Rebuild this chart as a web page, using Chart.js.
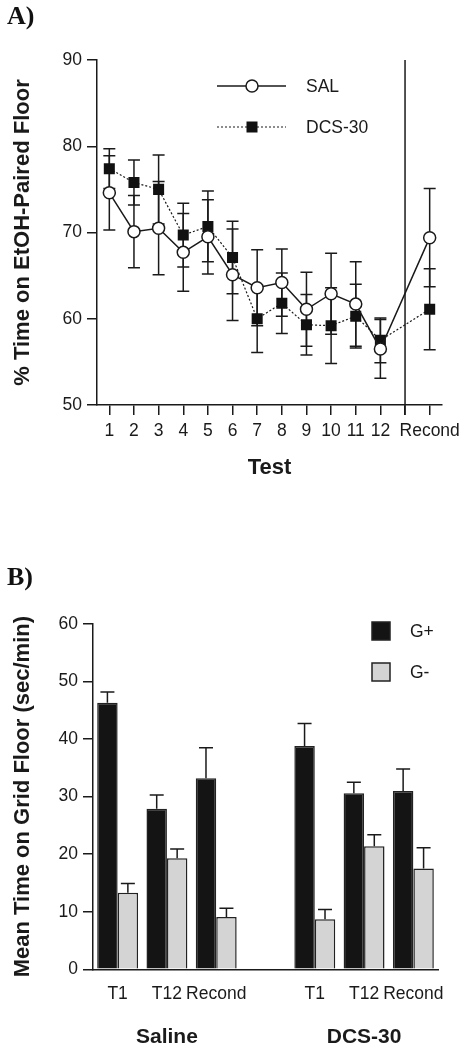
<!DOCTYPE html>
<html>
<head>
<meta charset="utf-8">
<script src="https://cdn.jsdelivr.net/npm/chart.js@4.4.1/dist/chart.umd.min.js"></script>
<style>
  body { margin: 0; background: #fff; }
  #wrap { position: relative; width: 467px; height: 1050px; }
  canvas { position: absolute; left: 0; }
  .panel { position: absolute; left: 7px; font: bold 26px "Liberation Serif", "Times New Roman", serif; line-height: 26px; color: #111; }
</style>
</head>
<body>
<div id="wrap">
  <canvas id="chartA" width="467" height="500" style="top:0"></canvas>
  <canvas id="chartB" width="467" height="550" style="top:500px"></canvas>
  <div class="panel" style="top:3px">A)</div>
  <div class="panel" style="top:564px">B)</div>
</div>
<script>
// panel A data
const testLabels = ['1', '2', '3', '4', '5', '6', '7', '8', '9', '10', '11', '12', '', 'Recond'];
const salMean = [74.6, 70.1, 70.5, 67.7, 69.5, 65.1, 63.6, 64.2, 61.1, 62.9, 61.7, 56.5, null, 69.4];
const salErr  = [4.3, 4.2, 5.4, 4.5, 4.3, 5.3, 4.4, 3.9, 4.3, 4.7, 4.9, 3.4, null, 5.7];
const dcsMean = [77.4, 75.8, 75.0, 69.7, 70.7, 67.1, 60.0, 61.8, 59.3, 59.2, 60.3, 57.5, null, 61.1];
const dcsErr  = [2.3, 2.6, 4.0, 3.7, 4.1, 4.2, 3.9, 3.5, 3.5, 4.4, 3.7, 2.6, null, 4.7];

// panel B data
const phaseLabels = ['T1', 'T12', 'Recond', '', 'T1', 'T12', 'Recond'];
const groupNames = ['Saline', 'DCS-30'];
const gPlus     = [46.3, 27.9, 33.2, null, 38.8, 30.6, 31.0];
const gPlusErr  = [1.9, 2.4, 5.3, null, 3.9, 1.9, 3.8];
const gMinus    = [13.3, 19.3, 9.1, null, 8.7, 21.4, 17.5];
const gMinusErr = [1.6, 1.6, 1.5, null, 1.7, 2.0, 3.6];

const ink = '#1a1a1a';
Chart.defaults.font.family = '"Liberation Sans", Arial, Helvetica, sans-serif';
Chart.defaults.color = ink;

// error bars for the line chart (both directions)
const lineErrors = {
  id: 'lineErrors',
  beforeDatasetsDraw(chart) {
    const ctx = chart.ctx, y = chart.scales.y;
    const errs = [salErr, dcsErr];
    ctx.save();
    ctx.strokeStyle = ink;
    ctx.lineWidth = 1.5;
    chart.data.datasets.forEach((ds, d) => {
      chart.getDatasetMeta(d).data.forEach((pt, i) => {
        const v = ds.data[i], e = errs[d][i];
        if (v == null || e == null) return;
        const y1 = y.getPixelForValue(v + e), y2 = y.getPixelForValue(v - e);
        ctx.beginPath();
        ctx.moveTo(pt.x, y1); ctx.lineTo(pt.x, y2);
        ctx.moveTo(pt.x - 6, y1); ctx.lineTo(pt.x + 6, y1);
        ctx.moveTo(pt.x - 6, y2); ctx.lineTo(pt.x + 6, y2);
        ctx.stroke();
      });
    });
    ctx.restore();
  }
};

// vertical divider before Recond + legend
const panelAExtras = {
  id: 'panelAExtras',
  beforeDatasetsDraw(chart) {
    const ctx = chart.ctx, x = chart.scales.x, a = chart.chartArea;
    const px = x.getPixelForValue(12);
    ctx.save();
    ctx.strokeStyle = ink;
    ctx.lineWidth = 1.5;
    ctx.beginPath();
    ctx.moveTo(px, a.top); ctx.lineTo(px, a.bottom + 10);
    ctx.stroke();
    ctx.restore();
  },
  afterDraw(chart) {
    const ctx = chart.ctx;
    ctx.save();
    ctx.strokeStyle = ink;
    // SAL
    ctx.lineWidth = 1.5;
    ctx.beginPath(); ctx.moveTo(217, 86); ctx.lineTo(286, 86); ctx.stroke();
    ctx.fillStyle = '#fff';
    ctx.beginPath(); ctx.arc(252, 86, 6, 0, Math.PI * 2); ctx.fill(); ctx.stroke();
    // DCS-30
    ctx.lineWidth = 1.2;
    ctx.setLineDash([2, 2]);
    ctx.beginPath(); ctx.moveTo(217, 127); ctx.lineTo(286, 127); ctx.stroke();
    ctx.setLineDash([]);
    ctx.fillStyle = '#111';
    ctx.fillRect(246.5, 121.5, 11, 11);
    ctx.fillStyle = ink;
    ctx.font = '17.5px "Liberation Sans", Arial, sans-serif';
    ctx.textBaseline = 'middle';
    ctx.fillText('SAL', 306, 87);
    ctx.fillText('DCS-30', 306, 128);
    ctx.restore();
  }
};

new Chart(document.getElementById('chartA'), {
  type: 'line',
  data: {
    labels: testLabels,
    datasets: [{
      label: 'SAL',
      data: salMean,
      borderColor: ink,
      borderWidth: 1.5,
      pointStyle: 'circle',
      pointRadius: 6,
      pointBackgroundColor: '#fff',
      pointBorderColor: ink,
      pointBorderWidth: 1.5,
      spanGaps: true
    }, {
      label: 'DCS-30',
      data: dcsMean,
      borderColor: ink,
      borderWidth: 1.2,
      borderDash: [2, 2],
      pointStyle: 'rect',
      pointRadius: 7.8,
      pointBackgroundColor: '#111',
      pointBorderColor: '#111',
      pointBorderWidth: 0,
      spanGaps: true
    }]
  },
  options: {
    responsive: false,
    animation: false,
    layout: { padding: { top: 60, right: 25, left: 0, bottom: 0 } },
    plugins: { legend: { display: false }, tooltip: { enabled: false } },
    scales: {
      x: {
        offset: true,
        grid: { drawOnChartArea: false, tickLength: 10, color: ink, lineWidth: 1.5, offset: false },
        border: { color: ink, width: 1.5 },
        ticks: { autoSkip: false, maxRotation: 0, padding: 6, font: { size: 17.5 } },
        title: { display: true, text: 'Test', font: { size: 22, weight: 'bold' }, padding: { top: 0, bottom: 19 } },
        afterFit(s) { s.height = 95; }
      },
      y: {
        min: 50, max: 90,
        grid: { drawOnChartArea: false, tickLength: 10, color: ink, lineWidth: 1.5 },
        border: { color: ink, width: 1.5 },
        ticks: { stepSize: 10, padding: 5, font: { size: 17.5 } },
        title: { display: true, text: '% Time on EtOH-Paired Floor', font: { size: 22, weight: 'bold' }, padding: { top: 10, bottom: 0 } },
        afterFit(s) { s.width = 97; }
      }
    }
  },
  plugins: [lineErrors, panelAExtras]
});

// upward error bars, group names and legend for the bar chart
const panelBExtras = {
  id: 'panelBExtras',
  afterDatasetsDraw(chart) {
    const ctx = chart.ctx, y = chart.scales.y;
    const errs = [gPlusErr, gMinusErr];
    ctx.save();
    ctx.strokeStyle = ink;
    ctx.lineWidth = 1.5;
    chart.data.datasets.forEach((ds, d) => {
      chart.getDatasetMeta(d).data.forEach((bar, i) => {
        const v = ds.data[i], e = errs[d][i];
        if (v == null || e == null) return;
        const top = y.getPixelForValue(v + e);
        ctx.beginPath();
        ctx.moveTo(bar.x, bar.y); ctx.lineTo(bar.x, top);
        ctx.moveTo(bar.x - 7, top); ctx.lineTo(bar.x + 7, top);
        ctx.stroke();
      });
    });
    ctx.restore();
  },
  afterDraw(chart) {
    const ctx = chart.ctx, x = chart.scales.x;
    ctx.save();
    ctx.fillStyle = ink;
    ctx.font = 'bold 21px "Liberation Sans", Arial, sans-serif';
    ctx.textAlign = 'center';
    ctx.textBaseline = 'middle';
    ctx.fillText(groupNames[0], x.getPixelForValue(1), 537);
    ctx.fillText(groupNames[1], x.getPixelForValue(5), 537);
    // legend
    ctx.lineWidth = 1.5;
    ctx.strokeStyle = '#222';
    ctx.fillStyle = '#141414';
    ctx.fillRect(372, 122, 18, 18); ctx.strokeRect(372, 122, 18, 18);
    ctx.fillStyle = '#d4d4d4';
    ctx.fillRect(372, 163, 18, 18); ctx.strokeRect(372, 163, 18, 18);
    ctx.fillStyle = ink;
    ctx.font = '17.5px "Liberation Sans", Arial, sans-serif';
    ctx.textAlign = 'left';
    ctx.fillText('G+', 410, 132);
    ctx.fillText('G-', 410, 173);
    ctx.restore();
  }
};

new Chart(document.getElementById('chartB'), {
  type: 'bar',
  data: {
    labels: phaseLabels,
    datasets: [{
      label: 'G+',
      data: gPlus,
      backgroundColor: '#141414',
      borderColor: '#222',
      borderWidth: 1.5,
      categoryPercentage: 0.83,
      barPercentage: 1.0
    }, {
      label: 'G-',
      data: gMinus,
      backgroundColor: '#d4d4d4',
      borderColor: '#222',
      borderWidth: 1.5,
      categoryPercentage: 0.83,
      barPercentage: 1.0
    }]
  },
  options: {
    responsive: false,
    animation: false,
    layout: { padding: { top: 124, right: 29, left: 0, bottom: 0 } },
    plugins: { legend: { display: false }, tooltip: { enabled: false } },
    scales: {
      x: {
        grid: { drawOnChartArea: false, drawTicks: false, color: ink },
        border: { color: ink, width: 1.5 },
        ticks: { autoSkip: false, maxRotation: 0, padding: 14, font: { size: 17.5 } },
        afterFit(s) { s.height = 80.7; }
      },
      y: {
        min: 0, max: 60,
        grid: { drawOnChartArea: false, tickLength: 10, color: ink, lineWidth: 1.5 },
        border: { color: ink, width: 1.5 },
        ticks: { stepSize: 10, padding: 5, font: { size: 17.5 } },
        title: { display: true, text: 'Mean Time on Grid Floor (sec/min)', font: { size: 22, weight: 'bold' }, padding: { top: 10, bottom: 0 } },
        afterFit(s) { s.width = 93; }
      }
    }
  },
  plugins: [panelBExtras]
});
</script>
</body>
</html>
